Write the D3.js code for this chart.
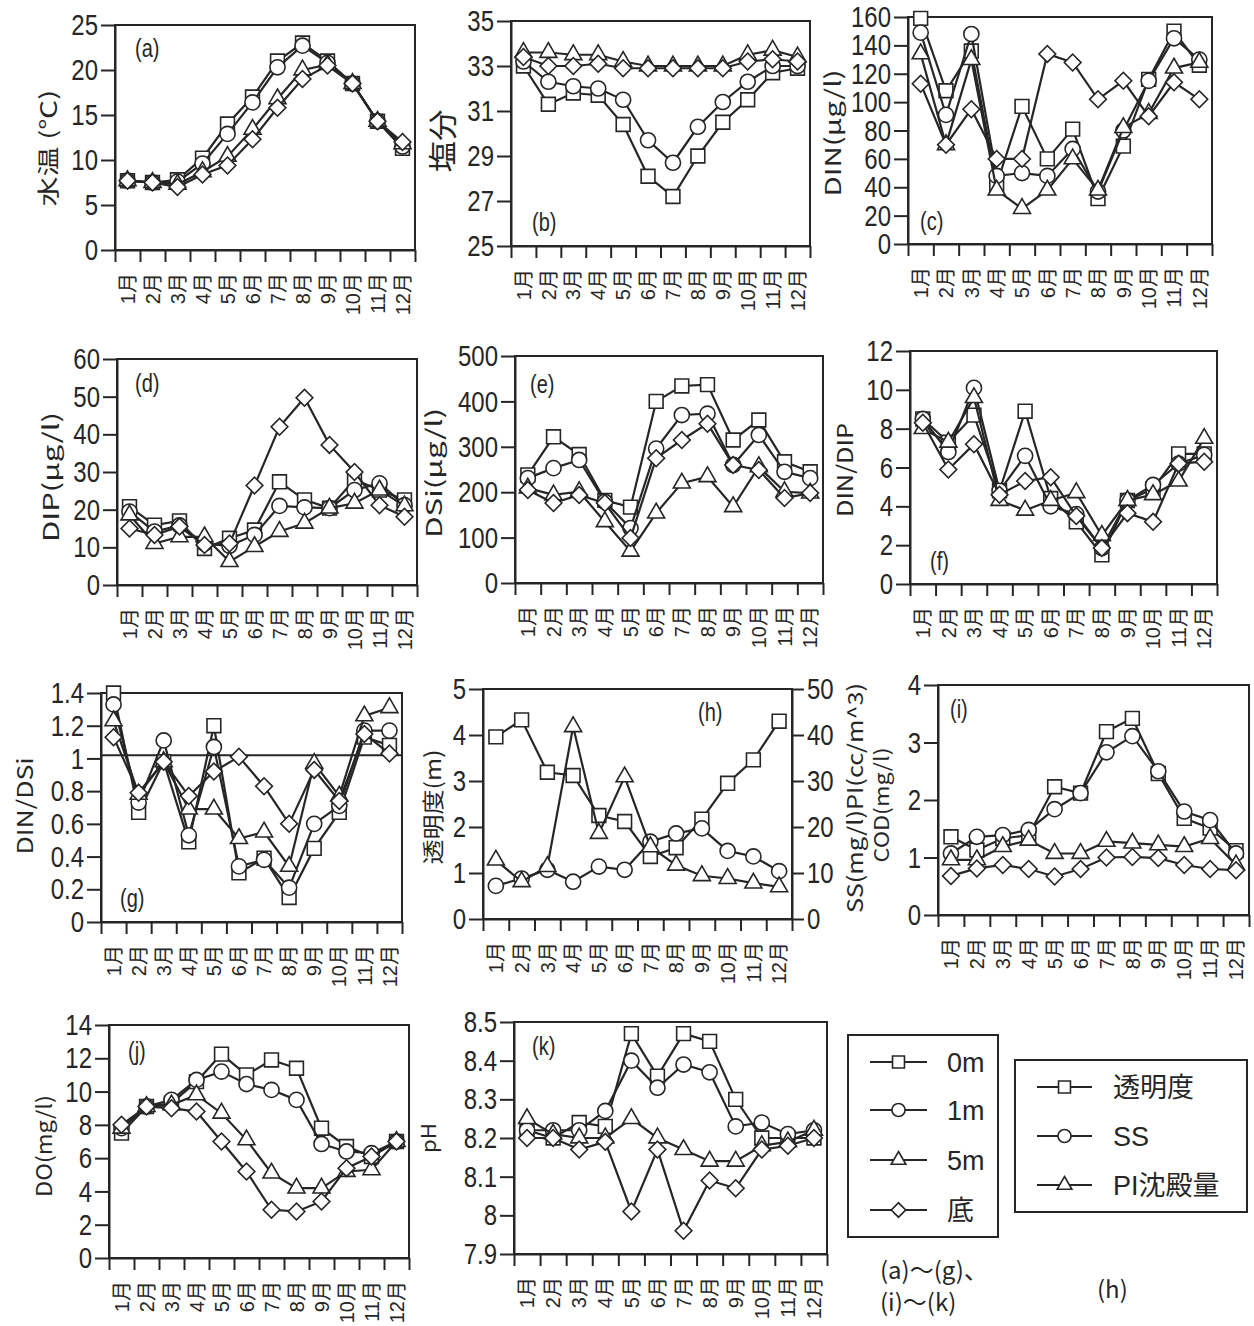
<!DOCTYPE html>
<html>
<head>
<meta charset="utf-8">
<script src="https://cdn.jsdelivr.net/npm/d3@7"></script>
<style>
  body { margin: 0; background: #fff; }
</style>
</head>
<body>
<div id="chart"></div>
<script>
var months = ['1月', '2月', '3月', '4月', '5月', '6月', '7月', '8月', '9月', '10月', '11月', '12月']

// (a) water temperature
var temp0m = [7.7, 7.5, 7.8, 10.2, 14.0, 17.0, 21.0, 23.0, 21.0, 18.5, 14.3, 11.3]
var temp1m = [7.7, 7.5, 7.6, 9.6, 12.9, 16.4, 20.3, 22.7, 20.8, 18.5, 14.3, 11.5]
var temp5m = [7.7, 7.5, 7.3, 8.7, 10.4, 13.4, 16.8, 20.0, 20.6, 18.5, 14.3, 11.8]
var tempBot = [7.7, 7.5, 7.0, 8.4, 9.4, 12.3, 15.8, 19.0, 20.5, 18.5, 14.3, 12.0]
var tempTicks = [0, 5, 10, 15, 20, 25]

// (b) salinity
var salt0m = [33.0, 31.3, 31.8, 31.7, 30.4, 28.1, 27.2, 29.0, 30.5, 31.5, 32.7, 32.9]
var salt1m = [33.2, 32.3, 32.1, 32.0, 31.5, 29.7, 28.7, 30.3, 31.4, 32.3, 33.0, 33.0]
var salt5m = [33.6, 33.6, 33.5, 33.5, 33.2, 33.0, 33.0, 33.0, 33.0, 33.5, 33.7, 33.4]
var saltBot = [33.4, 33.0, 33.0, 33.1, 32.9, 32.9, 32.9, 32.9, 32.9, 33.2, 33.3, 33.2]
var saltTicks = [25, 27, 29, 31, 33, 35]

// (c) DIN
var din0m = [159, 108, 136, 42, 97, 60, 81, 32, 69, 116, 150, 126]
var din1m = [149, 91, 148, 48, 50, 48, 67, 37, 80, 115, 145, 130]
var din5m = [134, 70, 130, 38, 25, 38, 60, 38, 82, 92, 124, 128]
var dinBot = [113, 70, 95, 60, 60, 134, 128, 102, 115, 90, 114, 102]
var dinTicks = [0, 20, 40, 60, 80, 100, 120, 140, 160]

// (d) DIP
var dip0m = [20.8, 15.9, 17.0, 9.7, 12.4, 14.6, 27.4, 22.6, 20.4, 28.0, 25.2, 22.6]
var dip1m = [19.5, 14.2, 15.8, 11.0, 10.4, 13.3, 21.0, 20.6, 20.4, 25.2, 27.0, 21.2]
var dip5m = [18.6, 11.0, 12.8, 12.8, 6.2, 10.2, 14.2, 16.4, 20.4, 21.7, 25.2, 21.0]
var dipBot = [15.0, 13.3, 15.5, 10.6, 11.0, 26.4, 42.0, 49.7, 37.2, 30.0, 21.2, 18.1]
var dipTicks = [0, 10, 20, 30, 40, 50, 60]

// (e) DSi
var dsi0m = [238, 322, 283, 182, 167, 400, 434, 437, 315, 359, 267, 245]
var dsi1m = [231, 253, 271, 179, 121, 296, 370, 373, 260, 326, 245, 231]
var dsi5m = [209, 194, 201, 135, 70, 154, 220, 234, 168, 256, 201, 198]
var dsiBot = [205, 176, 194, 176, 99, 275, 315, 351, 260, 249, 187, 198]
var dsiTicks = [0, 100, 200, 300, 400, 500]

// (f) DIN/DIP
var ndp0m = [8.5, 7.3, 8.7, 4.8, 8.9, 4.4, 3.2, 1.5, 4.3, 4.9, 6.7, 6.7]
var ndp1m = [8.5, 6.8, 10.1, 4.8, 6.6, 4.0, 3.6, 1.85, 4.3, 5.1, 6.2, 6.65]
var ndp5m = [8.0, 7.3, 9.6, 4.3, 3.8, 4.3, 4.7, 2.5, 4.3, 4.6, 5.3, 7.5]
var ndpBot = [8.3, 5.9, 7.2, 4.6, 5.3, 5.5, 3.5, 1.85, 3.65, 3.2, 6.2, 6.3]
var ndpTicks = [0, 2, 4, 6, 8, 10, 12]

// (g) DIN/DSi
var nsi0m = [1.40, 0.67, 0.98, 0.49, 1.20, 0.30, 0.39, 0.15, 0.45, 0.67, 1.13, 1.08]
var nsi1m = [1.33, 0.73, 1.11, 0.53, 1.07, 0.34, 0.38, 0.21, 0.60, 0.71, 1.17, 1.17]
var nsi5m = [1.23, 0.78, 0.98, 0.69, 0.69, 0.51, 0.55, 0.34, 0.97, 0.77, 1.26, 1.31]
var nsiBot = [1.13, 0.79, 0.98, 0.77, 0.92, 1.01, 0.83, 0.60, 0.93, 0.74, 1.15, 1.03]
var nsiTicks = [0, 0.2, 0.4, 0.6, 0.8, 1, 1.2, 1.4]
var nsiRefLine = 1.02

// (h) transparency, SS, PI
var transparency = [3.96, 4.33, 3.19, 3.12, 2.25, 2.12, 1.36, 1.55, 2.17, 2.95, 3.46, 4.30]
var ssConc = [7.2, 8.8, 10.7, 8.1, 11.4, 10.7, 16.8, 18.6, 19.7, 14.8, 13.6, 10.4]
var piVolume = [12.8, 8.1, 11.4, 41.8, 18.6, 30.9, 15.7, 11.7, 9.4, 8.8, 7.8, 7.0]
var transTicks = [0, 1, 2, 3, 4, 5]
var ssTicks = [0, 10, 20, 30, 40, 50]

// (i) COD
var cod0m = [1.36, 1.13, 1.33, 1.39, 2.23, 2.12, 3.19, 3.42, 2.46, 1.68, 1.51, 1.12]
var cod1m = [1.07, 1.36, 1.39, 1.48, 1.84, 2.12, 2.83, 3.11, 2.50, 1.80, 1.65, 1.07]
var cod5m = [0.96, 0.96, 1.19, 1.30, 1.07, 1.07, 1.28, 1.25, 1.22, 1.19, 1.33, 0.87]
var codBot = [0.68, 0.81, 0.87, 0.80, 0.67, 0.80, 1.00, 1.01, 0.99, 0.87, 0.80, 0.78]
var codTicks = [0, 1, 2, 3, 4]

// (j) DO
var do0m = [7.5, 9.1, 9.3, 10.6, 12.25, 11.0, 11.9, 11.4, 7.8, 6.7, 6.1, 7.0]
var do1m = [7.8, 9.1, 9.5, 10.7, 11.2, 10.45, 10.1, 9.5, 6.85, 6.4, 6.3, 7.0]
var do5m = [7.8, 9.1, 9.2, 9.8, 8.7, 7.1, 5.1, 4.2, 4.2, 5.2, 5.3, 7.0]
var doBot = [8.0, 9.1, 9.0, 8.8, 7.0, 5.2, 2.9, 2.8, 3.4, 5.4, 6.1, 7.0]
var doTicks = [0, 2, 4, 6, 8, 10, 12, 14]

// (k) pH
var ph0m = [8.22, 8.20, 8.24, 8.23, 8.47, 8.36, 8.47, 8.45, 8.30, 8.20, 8.20, 8.20]
var ph1m = [8.22, 8.22, 8.22, 8.27, 8.40, 8.33, 8.39, 8.37, 8.23, 8.24, 8.21, 8.22]
var ph5m = [8.25, 8.21, 8.20, 8.20, 8.25, 8.20, 8.17, 8.14, 8.14, 8.18, 8.19, 8.22]
var phBot = [8.20, 8.20, 8.17, 8.19, 8.01, 8.17, 7.96, 8.09, 8.07, 8.17, 8.18, 8.20]
var phTicks = [7.9, 8, 8.1, 8.2, 8.3, 8.4, 8.5]

var depthLabels = ['0m', '1m', '5m', '底']
var hLabels = ['透明度', 'SS', 'PI沈殿量']

var ink = '#262626'
var numFont = '"Liberation Sans", Arial, "Noto Sans CJK JP", sans-serif'
var jpFont = '"Noto Sans CJK JP", sans-serif'
var shapes = ['square', 'circle', 'triangle', 'diamond']
var squeeze = 0.8

var svg = d3.select('#chart')
  .append('svg')
  .attr('width', 1254)
  .attr('height', 1326)

function symbolPath (shape, big) {
  var k = big ? 1 : 0.75
  if (shape === 'square') return d3.symbol(d3.symbolSquare, 190 * k)()
  if (shape === 'circle') return d3.symbol(d3.symbolCircle, 180 * k)()
  if (shape === 'triangle') return d3.symbol(d3.symbolTriangle, 125 * k)()
  return d3.symbol(d3.symbolSquare, 140 * k)()
}

function plainFmt (d) { return String(d) }
function dotFmt (d) { return Number.isInteger(d) ? String(d) : d.toFixed(1) }

// narrow the glyphs horizontally, keeping each text's anchor in place
function condense (sel) {
  sel.each(function () {
    var t = d3.select(this)
    var x = +t.attr('x') || 0
    t.attr('x', x / squeeze).attr('transform', 'scale(' + squeeze + ',1)')
  })
}

var panels = [
  { box: [115, 25, 415, 250], domain: [0, 25], ticks: tempTicks, series: [temp0m, temp1m, temp5m, tempBot],
    title: '水温 (℃)', titleAt: [48, 148, 117, 22], tag: '(a)', tagAt: [135, 57] },
  { box: [511, 21, 810, 246], domain: [25, 35], ticks: saltTicks, series: [salt0m, salt1m, salt5m, saltBot],
    title: '塩分', titleAt: [444, 141, 63, 29], tag: '(b)', tagAt: [532, 231] },
  { box: [908, 17, 1212, 244], domain: [0, 160], ticks: dinTicks, series: [din0m, din1m, din5m, dinBot],
    title: 'DIN(μg/l)', titleAt: [833, 133, 127, 22], tag: '(c)', tagAt: [920, 230] },
  { box: [117, 359, 417, 585], domain: [0, 60], ticks: dipTicks, series: [dip0m, dip1m, dip5m, dipBot],
    title: 'DIP(μg/l)', titleAt: [51, 477, 130, 22], tag: '(d)', tagAt: [135, 392] },
  { box: [515, 356, 823, 583], domain: [0, 500], ticks: dsiTicks, series: [dsi0m, dsi1m, dsi5m, dsiBot],
    title: 'DSi(μg/l)', titleAt: [434, 473, 130, 22], tag: '(e)', tagAt: [530, 393] },
  { box: [910, 351, 1217, 584], domain: [0, 12], ticks: ndpTicks, series: [ndp0m, ndp1m, ndp5m, ndpBot],
    title: 'DIN/DIP', titleAt: [845, 470, 94, 22], tag: '(f)', tagAt: [930, 570] },
  { box: [101, 693, 402, 922], domain: [0, 1.4], ticks: nsiTicks, series: [nsi0m, nsi1m, nsi5m, nsiBot], fmt: dotFmt,
    refLine: nsiRefLine, title: 'DIN/DSi', titleAt: [25, 806, 97, 22], tag: '(g)', tagAt: [120, 907] },
  { box: [483, 689, 792, 919], domain: [0, 5], ticks: transTicks, series: [transparency], right: [ssConc, piVolume],
    rightDomain: [0, 50], rightTicks: ssTicks,
    title: '透明度(m)', titleAt: [433, 807, 115, 22], tag: '(h)', tagAt: [698, 721] },
  { box: [938, 685, 1249, 915], domain: [0, 4], ticks: codTicks, series: [cod0m, cod1m, cod5m, codBot],
    title: 'COD(mg/l)', titleAt: [882, 805, 115, 20], tag: '(i)', tagAt: [950, 718] },
  { box: [109, 1025, 409, 1258], domain: [0, 14], ticks: doTicks, series: [do0m, do1m, do5m, doBot],
    title: 'DO(mg/l)', titleAt: [44, 1146, 102, 21], tag: '(j)', tagAt: [128, 1060] },
  { box: [514, 1022, 827, 1254], domain: [7.9, 8.5], ticks: phTicks, series: [ph0m, ph1m, ph5m, phBot], fmt: dotFmt,
    title: 'pH', titleAt: [429, 1138, 30, 20], tag: '(k)', tagAt: [532, 1055] }
]

function styleAxis (g, size) {
  g.attr('font-family', numFont).attr('font-size', size)
  g.selectAll('path, line').attr('stroke', ink).attr('stroke-width', 2)
  g.selectAll('text').attr('fill', ink).call(condense)
}

function verticalTitle (text, at) {
  svg.append('text')
    .attr('transform', 'translate(' + at[0] + ',' + at[1] + ') rotate(-90)')
    .attr('text-anchor', 'middle')
    .attr('dy', '0.36em')
    .attr('font-family', jpFont)
    .attr('font-size', at[3])
    .attr('textLength', at[2])
    .attr('lengthAdjust', 'spacingAndGlyphs')
    .attr('fill', ink)
    .text(text)
}

function drawSeries (g, values, shape, xb, y) {
  var cx = function (d, i) { return xb(months[i]) + xb.bandwidth() / 2 }
  var line = d3.line().x(cx).y(function (d) { return y(d) })
  g.append('path')
    .attr('d', line(values))
    .attr('fill', 'none')
    .attr('stroke', ink)
    .attr('stroke-width', 2.2)
  g.selectAll(null)
    .data(values)
    .enter()
    .append('path')
    .attr('d', symbolPath(shape, true))
    .attr('transform', function (d, i) {
      return 'translate(' + cx(d, i) + ',' + y(d) + ')' + (shape === 'diamond' ? ' rotate(45)' : '')
    })
    .attr('fill', '#fff')
    .attr('stroke', ink)
    .attr('stroke-width', 1.6)
}

panels.forEach(function (p) {
  var l = p.box[0], t = p.box[1], r = p.box[2], b = p.box[3]
  var g = svg.append('g')
  var xi = d3.scaleLinear().domain([0, 12]).range([l, r])
  var xb = d3.scaleBand().domain(months).range([l, r])
  var y = d3.scaleLinear().domain(p.domain).range([b, t])

  g.append('rect')
    .attr('x', l).attr('y', t)
    .attr('width', r - l).attr('height', b - t)
    .attr('fill', 'none')
    .attr('stroke', ink)
    .attr('stroke-width', 2)

  g.append('g')
    .attr('transform', 'translate(0,' + b + ')')
    .call(d3.axisBottom(xi).tickValues(d3.range(13)).tickSize(12).tickSizeOuter(0).tickFormat(''))
    .call(styleAxis, 10)

  g.append('g')
    .attr('transform', 'translate(' + l + ',0)')
    .call(d3.axisLeft(y).tickValues(p.ticks).tickSize(14).tickPadding(3).tickSizeOuter(0).tickFormat(p.fmt || plainFmt))
    .call(styleAxis, 30)

  g.selectAll(null)
    .data(months)
    .enter()
    .append('text')
    .attr('transform', function (d) {
      return 'translate(' + (xb(d) + xb.bandwidth() / 2) + ',' + (b + 23) + ') rotate(-90)'
    })
    .attr('text-anchor', 'end')
    .attr('dy', '0.36em')
    .attr('font-family', numFont)
    .attr('font-size', 20)
    .attr('fill', ink)
    .text(function (d) { return d })

  if (p.refLine !== undefined) {
    g.append('line')
      .attr('x1', l).attr('x2', r)
      .attr('y1', y(p.refLine)).attr('y2', y(p.refLine))
      .attr('stroke', ink)
      .attr('stroke-width', 2)
  }

  p.series.forEach(function (values, i) {
    drawSeries(g, values, shapes[i], xb, y)
  })

  if (p.right) {
    var y2 = d3.scaleLinear().domain(p.rightDomain).range([b, t])
    g.append('g')
      .attr('transform', 'translate(' + r + ',0)')
      .call(d3.axisRight(y2).tickValues(p.rightTicks).tickSize(12).tickPadding(3).tickSizeOuter(0))
      .call(styleAxis, 30)
    p.right.forEach(function (values, i) {
      drawSeries(g, values, shapes[i + 1], xb, y2)
    })
  }

  verticalTitle(p.title, p.titleAt)

  g.append('text')
    .attr('x', p.tagAt[0]).attr('y', p.tagAt[1])
    .attr('font-family', numFont)
    .attr('font-size', 25)
    .attr('fill', ink)
    .text(p.tag)
    .call(condense)
})

// right axis title of (h)
verticalTitle('SS(mg/l)PI(cc/m^3)', [855, 798, 230, 21])

// legends
function legend (box, rows, lineX, labels, textX) {
  svg.append('rect')
    .attr('x', box[0]).attr('y', box[1])
    .attr('width', box[2]).attr('height', box[3])
    .attr('fill', 'none')
    .attr('stroke', ink)
    .attr('stroke-width', 2)
  var item = svg.selectAll(null)
    .data(labels)
    .enter()
    .append('g')
    .attr('transform', function (d, i) { return 'translate(0,' + rows[i] + ')' })
  item.append('line')
    .attr('x1', lineX[0]).attr('x2', lineX[1])
    .attr('stroke', ink)
    .attr('stroke-width', 2)
  item.append('path')
    .attr('d', function (d, i) { return symbolPath(shapes[i], false) })
    .attr('transform', function (d, i) {
      return 'translate(' + (lineX[0] + lineX[1]) / 2 + ',0)' + (shapes[i] === 'diamond' ? ' rotate(45)' : '')
    })
    .attr('fill', '#fff')
    .attr('stroke', ink)
    .attr('stroke-width', 1.6)
  item.append('text')
    .attr('x', textX)
    .attr('dy', '0.36em')
    .attr('font-family', numFont)
    .attr('font-size', 27)
    .attr('fill', ink)
    .text(function (d) { return d })
}

legend([848, 1035, 150, 202], [1062, 1110, 1160, 1210], [870, 927], depthLabels, 947)
legend([1015, 1060, 232, 152], [1087, 1136, 1185], [1037, 1092], hLabels, 1113)

var captions = [
  { text: '(a)～(g)、', x: 880, y: 1279 },
  { text: '(i)～(k)', x: 880, y: 1311 },
  { text: '(h)', x: 1097, y: 1298 }
]
svg.selectAll(null)
  .data(captions)
  .enter()
  .append('text')
  .attr('x', function (d) { return d.x })
  .attr('y', function (d) { return d.y })
  .attr('font-family', jpFont)
  .attr('font-size', 24)
  .attr('fill', ink)
  .text(function (d) { return d.text })
</script>
</body>
</html>
